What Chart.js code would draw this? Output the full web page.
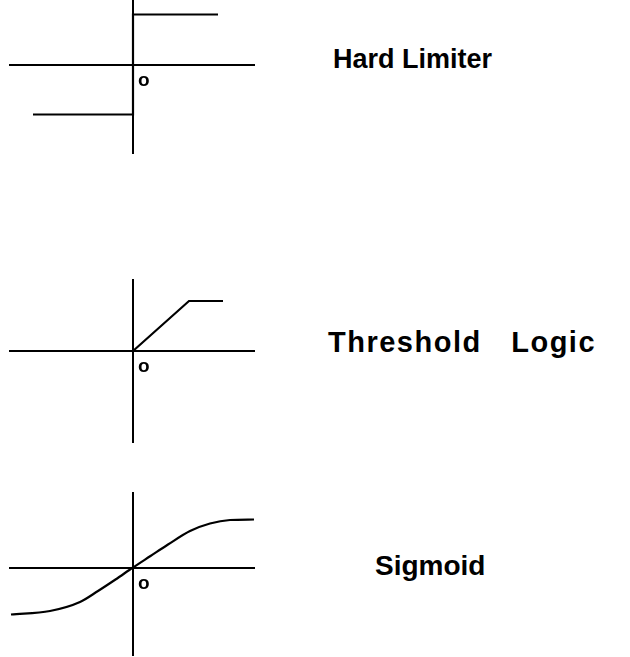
<!DOCTYPE html>
<html>
<head>
<meta charset="utf-8">
<script src="https://cdn.jsdelivr.net/npm/chart.js@4.4.0/dist/chart.umd.min.js"></script>
<style>
  html, body { margin: 0; padding: 0; background: #fff; }
  body { width: 630px; height: 657px; position: relative; overflow: hidden; }
  .panel { position: absolute; left: 0; width: 264px; height: 170px; }
  .label {
    position: absolute;
    font-family: "Liberation Sans", Arial, sans-serif;
    font-weight: bold;
    font-size: 28px;
    line-height: 28px;
    color: #000;
    white-space: pre;
  }
</style>
</head>
<body>
<div class="panel" style="top:-4px;height:161px"><canvas id="hardChart"></canvas></div>
<div class="panel" style="top:276px"><canvas id="threshChart"></canvas></div>
<div class="panel" style="top:489px"><canvas id="sigChart"></canvas></div>
<div class="label" id="lab0" style="left:333px;top:45px;font-size:27px"></div>
<div class="label" id="lab1" style="left:328px;top:328px;font-size:29px;letter-spacing:1.5px;word-spacing:20px"></div>
<div class="label" id="lab2" style="left:375px;top:552px"></div>
<script>
'use strict';

// --- data (1 unit = output level) ---
const hardX = [-2.0, 0, 0, 1.7];
const hardY = [-1, -1, 1, 1];

const threshX = [0, 1.12, 1.8];
const threshY = [0, 1, 1];

const sigX = [-2.44, -1.66, -1.06, -0.7, -0.35, 0, 0.35, 0.7, 1.14, 1.54, 1.94, 2.42];
const sigY = [-0.94, -0.87, -0.69, -0.47, -0.24, 0, 0.23, 0.46, 0.73, 0.88, 0.95, 0.96];

const panelLabels = ['Hard Limiter', 'Threshold Logic', 'Sigmoid'];
const originLabel = 'o';

panelLabels.forEach((t, i) => { document.getElementById('lab' + i).textContent = t; });

// draws the small origin mark just below-right of (0,0)
const originPlugin = {
  id: 'originLabel',
  afterDraw(chart) {
    const { ctx, scales } = chart;
    const px = scales.x.getPixelForValue(0);
    const py = scales.y.getPixelForValue(0);
    ctx.save();
    ctx.fillStyle = '#000';
    ctx.font = 'bold 19px "Liberation Sans", Arial, sans-serif';
    ctx.textAlign = 'left';
    ctx.textBaseline = 'alphabetic';
    ctx.fillText(originLabel, px + 5, py + 21);
    ctx.restore();
  },
};

function axisOpts(min, max, pos) {
  return {
    type: 'linear',
    min: min,
    max: max,
    position: pos,
    ticks: { display: false },
    grid: { display: false, drawTicks: false },
    border: { display: true, color: '#000', width: 2 },
  };
}

function makePanel(id, xs, ys, yr, smooth) {
  const el = document.getElementById(id);
  new Chart(el.getContext('2d'), {
    type: 'line',
    data: {
      datasets: [{
        data: xs.map((x, i) => ({ x: x, y: ys[i] })),
        borderColor: '#000',
        borderWidth: 2.2,
        pointRadius: 0,
        fill: false,
        tension: smooth ? 0.4 : 0,
        cubicInterpolationMode: smooth ? 'monotone' : 'default',
      }],
    },
    options: {
      responsive: true,
      maintainAspectRatio: false,
      animation: false,
      events: [],
      layout: { padding: { left: 10, right: 10, top: 4, bottom: 4 } },
      plugins: { legend: { display: false }, tooltip: { enabled: false } },
      scales: {
        x: axisOpts(-2.46, 2.42, { y: 0 }),
        y: axisOpts(yr[0], yr[1], { x: 0 }),
      },
    },
    plugins: [originPlugin],
  });
}

makePanel('hardChart', hardX, hardY, [-1.77, 1.29], false);
makePanel('threshChart', threshX, threshY, [-1.82, 1.42], false);
makePanel('sigChart', sigX, sigY, [-1.75, 1.49], true);
</script>
</body>
</html>
